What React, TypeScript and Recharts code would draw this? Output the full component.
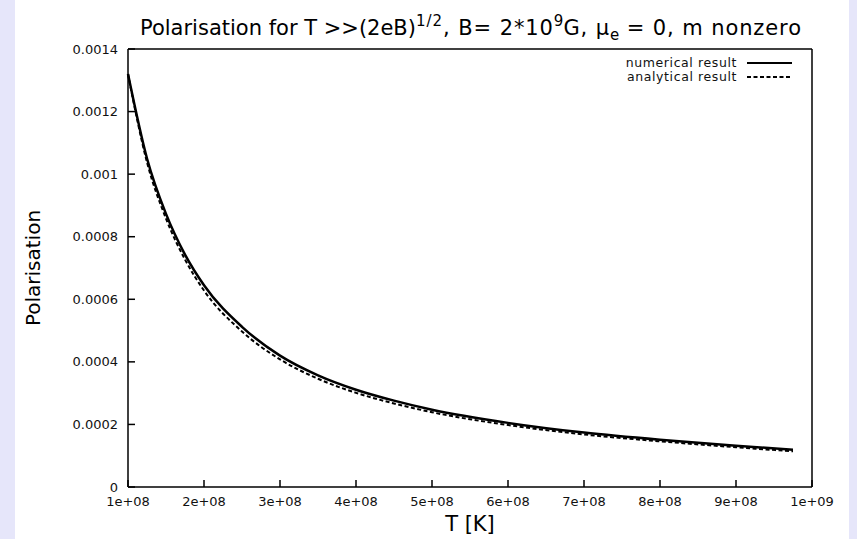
import { LineChart, Line, XAxis, YAxis, Legend } from "recharts";

// temperature samples (K) and the two polarisation curves
const temperatures = [1e8, 1.25e8, 1.5e8, 1.75e8, 2e8, 2.5e8, 3e8, 3.5e8, 4e8, 4.5e8, 5e8, 6e8, 7e8, 8e8, 9e8, 9.75e8];
const numerical = [0.00132, 0.00105, 0.000873, 0.000743, 0.000645, 0.000512, 0.00042, 0.000357, 0.000311, 0.000276, 0.000247, 0.000205, 0.000174, 0.000151, 0.000132, 0.000119];
const analytical = [0.00132, 0.001038, 0.000858, 0.000727, 0.000628, 0.000497, 0.000408, 0.000346, 0.000301, 0.000267, 0.000239, 0.000198, 0.000168, 0.000146, 0.000127, 0.000114];

const xTicks = [1e8, 2e8, 3e8, 4e8, 5e8, 6e8, 7e8, 8e8, 9e8, 1e9];
const xTickLabels = ["1e+08", "2e+08", "3e+08", "4e+08", "5e+08", "6e+08", "7e+08", "8e+08", "9e+08", "1e+09"];
const yTicks = [0, 0.0002, 0.0004, 0.0006, 0.0008, 0.001, 0.0012, 0.0014];
const yTickLabels = ["0", "0.0002", "0.0004", "0.0006", "0.0008", "0.001", "0.0012", "0.0014"];
const legendOrder = ["numerical result", "analytical result"];

const rows = temperatures.map((t, i) => ({ t, numerical: numerical[i], analytical: analytical[i] }));

const FONT = "DejaVu Sans";
const tickStyle = { fontFamily: FONT, fontSize: 13, fill: "#111" };

function LegendBox(props: any) {
  const items = [...(props.payload || [])].sort(
    (a: any, b: any) => legendOrder.indexOf(a.value) - legendOrder.indexOf(b.value)
  );
  return (
    <svg width={200} height={36} style={{ display: "block" }}>
      {items.map((p: any, i: number) => {
        const dash = p.payload?.strokeDasharray;
        return (
          <g key={p.value}>
            <text
              x={137}
              y={15 + i * 14}
              textAnchor="end"
              fontFamily={FONT}
              fontSize={12.5}
              letterSpacing={0.6}
              fill="#111"
            >
              {p.value}
            </text>
            <line
              x1={147}
              x2={192}
              y1={11 + i * 14}
              y2={11 + i * 14}
              stroke="#000"
              strokeWidth={dash ? 1.8 : 2}
              strokeDasharray={dash}
            />
          </g>
        );
      })}
    </svg>
  );
}

export default function App() {
  return (
    <div style={{ position: "absolute", left: 0, top: 0, width: 857, height: 539, background: "#e6e6fa" }}>
      <div style={{ position: "absolute", left: 15, top: 0, width: 834, height: 539, background: "#fff" }} />
      <div style={{ position: "absolute", left: 0, top: 0 }}>
        <LineChart width={857} height={539} data={rows} margin={{ top: 39, right: 35, bottom: 12, left: 28 }}>
          <XAxis
            dataKey="t"
            type="number"
            domain={[1e8, 1e9]}
            ticks={xTicks}
            tickFormatter={(v: number) => xTickLabels[xTicks.indexOf(v)]}
            height={40}
            tickSize={-7}
            tickMargin={17}
            stroke="#000"
            strokeWidth={1.5}
            tick={tickStyle}
          />
          <XAxis
            xAxisId="top"
            orientation="top"
            dataKey="t"
            type="number"
            domain={[1e8, 1e9]}
            ticks={xTicks}
            height={10}
            tickSize={-7}
            tick={false}
            stroke="#000"
            strokeWidth={1.5}
          />
          <YAxis
            type="number"
            domain={[0, 0.0014]}
            ticks={yTicks}
            tickFormatter={(v: number) => yTickLabels[yTicks.indexOf(v)]}
            width={100}
            tickSize={-7}
            tickMargin={17}
            stroke="#000"
            strokeWidth={1.5}
            tick={tickStyle}
          />
          <YAxis
            yAxisId="right"
            orientation="right"
            type="number"
            domain={[0, 0.0014]}
            ticks={yTicks}
            width={10}
            tickSize={-7}
            tick={false}
            stroke="#000"
            strokeWidth={1.5}
          />
          <Legend
            content={<LegendBox />}
            layout="horizontal"
            verticalAlign="middle"
            align="center"
            wrapperStyle={{ left: 600, top: 52, width: 200 }}
          />
          <Line
            name="numerical result"
            dataKey="numerical"
            type="monotone"
            stroke="#000"
            strokeWidth={2.5}
            dot={false}
            isAnimationActive={false}
          />
          <Line
            name="analytical result"
            dataKey="analytical"
            type="monotone"
            stroke="#000"
            strokeWidth={2}
            strokeDasharray="4 2.5"
            dot={false}
            isAnimationActive={false}
          />
        </LineChart>
      </div>
      <svg width={857} height={539} style={{ position: "absolute", left: 0, top: 0, pointerEvents: "none" }}>
        <text x={140} y={35} fontFamily={FONT} fontSize={21} fill="#000">
          Polarisation for T &gt;&gt;(2eB)
          <tspan fontSize={15} dy={-9} letterSpacing={1}>1/2</tspan>
          <tspan dy={9} letterSpacing={0.9}>, B= 2*10</tspan>
          <tspan fontSize={15} dy={-9}>9</tspan>
          <tspan dy={9} letterSpacing={0.9}>G, μ</tspan>
          <tspan fontSize={15} dy={5}>e</tspan>
          <tspan dy={-5} letterSpacing={0.9}> = 0, m nonzero</tspan>
        </text>
        <text
          x={39.5}
          y={268}
          transform="rotate(-90 39.5 268)"
          textAnchor="middle"
          fontFamily={FONT}
          fontSize={20}
          fill="#000"
        >
          Polarisation
        </text>
        <text x={470} y={531} textAnchor="middle" fontFamily={FONT} fontSize={21} fill="#000">
          T [K]
        </text>
      </svg>
    </div>
  );
}
